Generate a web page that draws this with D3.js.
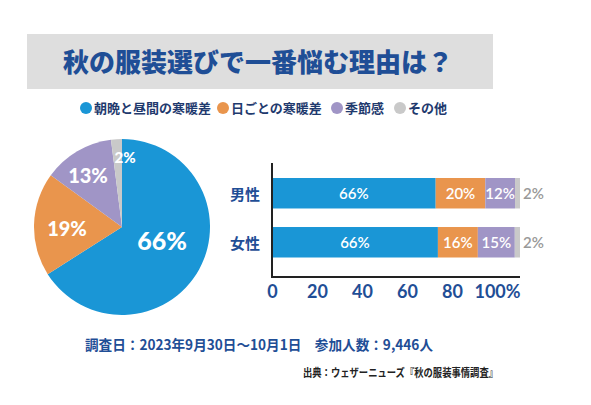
<!DOCTYPE html>
<html><head><meta charset="utf-8">
<script src="https://cdn.jsdelivr.net/npm/d3@7"></script>
<style>body{margin:0;background:#fff;}svg{display:block;}</style>
</head><body>
<svg id="c" width="591" height="405"></svg>
<script>
const categories = ["朝晩と昼間の寒暖差","日ごとの寒暖差","季節感","その他"];
const colors = ["#1a96d6","#e9954d","#a095c6","#c9c9c9"];
const pieValues = [66,19,13,2];
const groups = ["男性","女性"];
const maleValues = [66,20,12,2];
const femaleValues = [66.9,16.1,14.9,2.1];
const maleLabels = ["66%","20%","12%","2%"];
const femaleLabels = ["66%","16%","15%","2%"];
const tickValues = [0,20,40,60,80,100];
const tickLabels = ["0","20","40","60","80","100%"];

const svg = d3.select("#c");
const navy = "#1f4e96";
const font = "'Noto Sans CJK JP','Noto Sans',sans-serif";
const numFont = "Lato,'Noto Sans',sans-serif";

// Title
svg.append("rect").attr("x",27).attr("y",34).attr("width",466).attr("height",55).attr("fill","#dedede");
svg.append("text").attr("x",258).attr("y",72).attr("text-anchor","middle")
  .attr("font-family",font).attr("font-weight",900).attr("font-size",26).attr("fill",navy)
  .text("秋の服装選びで一番悩む理由は？");

// Legend
const legX = [86,223,337,400];
const leg = svg.append("g");
categories.forEach((c,i)=>{
  leg.append("circle").attr("cx",legX[i]).attr("cy",108).attr("r",6).attr("fill",colors[i]);
  leg.append("text").attr("x",legX[i]+8).attr("y",113).attr("font-family",font).attr("font-weight",700)
    .attr("font-size",13).attr("fill","#1f3a6e").text(c);
});

// Pie
const pie = d3.pie().sort(null).value(d=>d)(pieValues);
const arc = d3.arc().innerRadius(0).outerRadius(88);
const pg = svg.append("g").attr("transform","translate(122,227)");
pg.selectAll("path").data(pie).join("path").attr("d",arc).attr("fill",(d,i)=>colors[i]);
const pieLabelPos = [[40,13],[-55,1],[-34,-52],[3,-70]];
const pieLabelSize = [25,20,20,15];
pg.selectAll("text.pl").data(pie).join("text").attr("class","pl")
  .attr("x",(d,i)=>pieLabelPos[i][0]).attr("y",(d,i)=>pieLabelPos[i][1])
  .attr("text-anchor","middle").attr("dominant-baseline","central")
  .attr("font-family",numFont).attr("font-weight",900).attr("font-size",(d,i)=>pieLabelSize[i])
  .attr("fill","#fff").text(d=>d.data+"%");

// Bars
const x = d3.scaleLinear().domain([0,100]).range([272,520]);
const xTicks = d3.scaleLinear().domain([0,100]).range([272,497]);
const y = d3.scaleBand().domain(groups).range([163,272.5]).paddingInner(0.378).paddingOuter(0.306);
const rows = [maleValues,femaleValues];
const rowLabels = [maleLabels,femaleLabels];
const bg = svg.append("g");
rows.forEach((vals,r)=>{
  let acc=0;
  const segs = vals.map((v,i)=>{const s={x0:acc,x1:acc+v,i,label:rowLabels[r][i]};acc+=v;return s;});
  const yy = y(groups[r]);
  bg.selectAll("rect.r"+r).data(segs).join("rect").attr("class","r"+r)
    .attr("x",d=>x(d.x0)).attr("y",yy).attr("width",d=>x(d.x1)-x(d.x0)).attr("height",y.bandwidth())
    .attr("fill",d=>colors[d.i]);
  bg.selectAll("text.t"+r).data(segs).join("text").attr("class","t"+r)
    .attr("x",d=>d.i===3 ? x(d.x1)+3 : (x(d.x0)+x(d.x1))/2)
    .attr("y",yy+y.bandwidth()/2).attr("dominant-baseline","central")
    .attr("text-anchor",d=>d.i===3?"start":"middle")
    .attr("font-family",numFont).attr("font-weight",600).attr("font-size",15)
    .attr("fill",d=>d.i===3?"#999":"#fff").text(d=>d.label);
  bg.append("text").attr("x",245).attr("y",yy+y.bandwidth()/2).attr("dominant-baseline","central")
    .attr("text-anchor","middle").attr("font-family",font).attr("font-weight",700).attr("font-size",15)
    .attr("fill",navy).text(groups[r]);
});
// axes lines
bg.append("line").attr("x1",272).attr("x2",272).attr("y1",163).attr("y2",278).attr("stroke","#222").attr("stroke-width",2);
bg.append("line").attr("x1",271).attr("x2",x(100)).attr("y1",277).attr("y2",277).attr("stroke","#222").attr("stroke-width",2);
const axis = d3.axisBottom(xTicks).tickValues(tickValues).tickSize(0).tickFormat((d,i)=>tickLabels[i]);
const ag = svg.append("g").attr("transform","translate(0,282)").call(axis);
ag.select(".domain").remove();
ag.selectAll("text").attr("font-family",numFont).attr("font-weight",700).attr("font-size",18).attr("fill",navy).attr("dy","0.71em");

// Footer
svg.append("text").attr("x",259).attr("y",350).attr("text-anchor","middle")
  .attr("font-family",font).attr("font-weight",700).attr("font-size",14).attr("fill",navy)
  .attr("textLength",348).attr("lengthAdjust","spacingAndGlyphs")
  .text("調査日：2023年9月30日～10月1日　参加人数：9,446人");
svg.append("text").attr("x",498).attr("y",377).attr("text-anchor","end")
  .attr("font-family",font).attr("font-weight",700).attr("font-size",11).attr("fill","#222")
  .attr("textLength",195).attr("lengthAdjust","spacingAndGlyphs")
  .text("出典：ウェザーニューズ『秋の服装事情調査』");
</script>
</body></html>
